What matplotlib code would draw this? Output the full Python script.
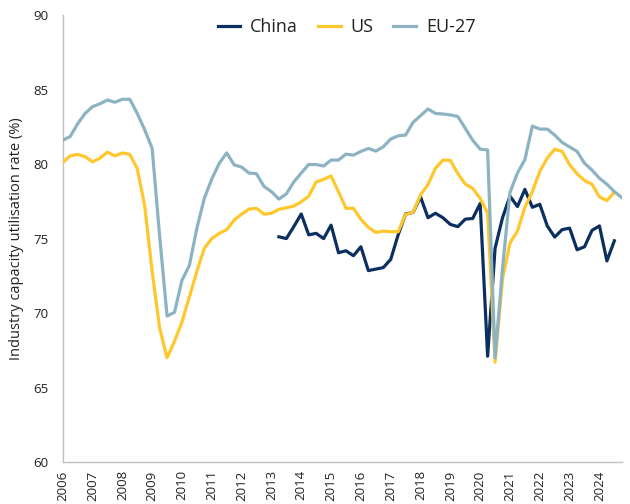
import numpy as np
import matplotlib
matplotlib.use("Agg")
import matplotlib.pyplot as plt

nan = np.nan

years = [str(y) for y in range(2006, 2025)]

eu27 = [81.6, 81.85, 82.7, 83.4, 83.85, 84.05, 84.3, 84.15, 84.35, 84.35,
        83.4, 82.3, 81.05, 75.2, 69.8, 70.05, 72.2, 73.2, 75.7, 77.7,
        79.0, 80.05, 80.75, 79.95, 79.8, 79.4, 79.35, 78.5, 78.15, 77.65,
        78.0, 78.8, 79.4, 79.97, 79.97, 79.87, 80.27, 80.27, 80.67, 80.6,
        80.85, 81.05, 80.87, 81.16, 81.68, 81.9, 81.95, 82.8, 83.25, 83.7,
        83.4, 83.36, 83.3, 83.2, 82.4, 81.6, 81.0, 80.95, 67.0, 73.0,
        78.1, 79.4, 80.3, 82.55, 82.35, 82.35, 81.95, 81.45, 81.15, 80.85,
        80.05, 79.6, 79.05, 78.65, 78.15, 77.75]

us = [80.1, 80.55, 80.65, 80.5, 80.15, 80.4, 80.8, 80.55, 80.75, 80.65,
      79.7, 77.2, 72.8, 69.0, 67.0, 68.1, 69.4, 71.1, 72.8, 74.35,
      75.0, 75.35, 75.6, 76.24, 76.64, 76.98, 77.03, 76.64, 76.7, 76.96,
      77.07, 77.18, 77.47, 77.85, 78.8, 78.97, 79.2, 78.14, 77.03, 77.03,
      76.3, 75.75, 75.41, 75.5, 75.46, 75.46, 76.62, 76.76, 77.92, 78.63,
      79.71, 80.27, 80.25, 79.37, 78.66, 78.37, 77.7, 76.7, 66.7, 72.3,
      74.7, 75.5, 77.1, 78.15, 79.5, 80.4, 81.0, 80.85, 79.95, 79.35,
      78.9, 78.65, 77.8, 77.55, 78.1, nan]

china = [nan] * 29 + [
    75.12, 75.0, 75.8, 76.65, 75.25, 75.35, 75.0, 75.9, 74.05, 74.18,
    73.85, 74.45, 72.85, 72.95, 73.05, 73.6, 75.25, 76.65, 76.75, 77.8,
    76.4, 76.7, 76.4, 75.95, 75.8, 76.3, 76.35, 77.35, 67.1, 74.35,
    76.4, 77.85, 77.15, 78.3, 77.1, 77.3, 75.85, 75.1, 75.6, 75.7,
    74.25, 74.45, 75.55, 75.85, 73.5, 74.85] + [nan]

FONT = ["Open Sans", "DejaVu Sans"]
plt.rcParams['font.family'] = FONT

fig = plt.figure(figsize=(6.3, 5.04), dpi=100)
ax = fig.add_axes([0.0995, 0.0833, 0.8875, 0.8867])

x = np.arange(len(eu27))
lw = 2.3
ax.plot(x, china, color="#0B3060", lw=lw, label="China", zorder=3)
ax.plot(x, us, color="#FFC72C", lw=lw, label="US", zorder=4)
ax.plot(x, eu27, color="#8CB3C2", lw=lw, label="EU-27", zorder=5)

ax.set_xlim(0, len(eu27) - 1)
ax.set_ylim(60, 90)
ax.set_yticks(range(60, 91, 5))
ax.set_xticks(np.arange(0, len(years) * 4, 4))
ax.set_xticklabels(years, rotation=90)
ax.tick_params(axis="both", length=0, labelsize=9.5, colors="#222222")
ax.tick_params(axis="y", pad=10)
ax.tick_params(axis="x", pad=6)

for s in ["top", "right"]:
    ax.spines[s].set_visible(False)
for s in ["left", "bottom"]:
    ax.spines[s].set_color("#BFBFBF")
    ax.spines[s].set_linewidth(1.0)

ax.set_ylabel("Industry capacity utilisation rate (%)", fontsize=10.5, color="#222222", labelpad=7)

leg = ax.legend(loc="upper center", bbox_to_anchor=(0.508, 1.03), ncol=3, frameon=False,
                fontsize=13, handlelength=1.25, handletextpad=0.55, columnspacing=1.1)
for t in leg.get_texts():
    t.set_color("#222222")

fig.savefig("out.png", dpi=100)
